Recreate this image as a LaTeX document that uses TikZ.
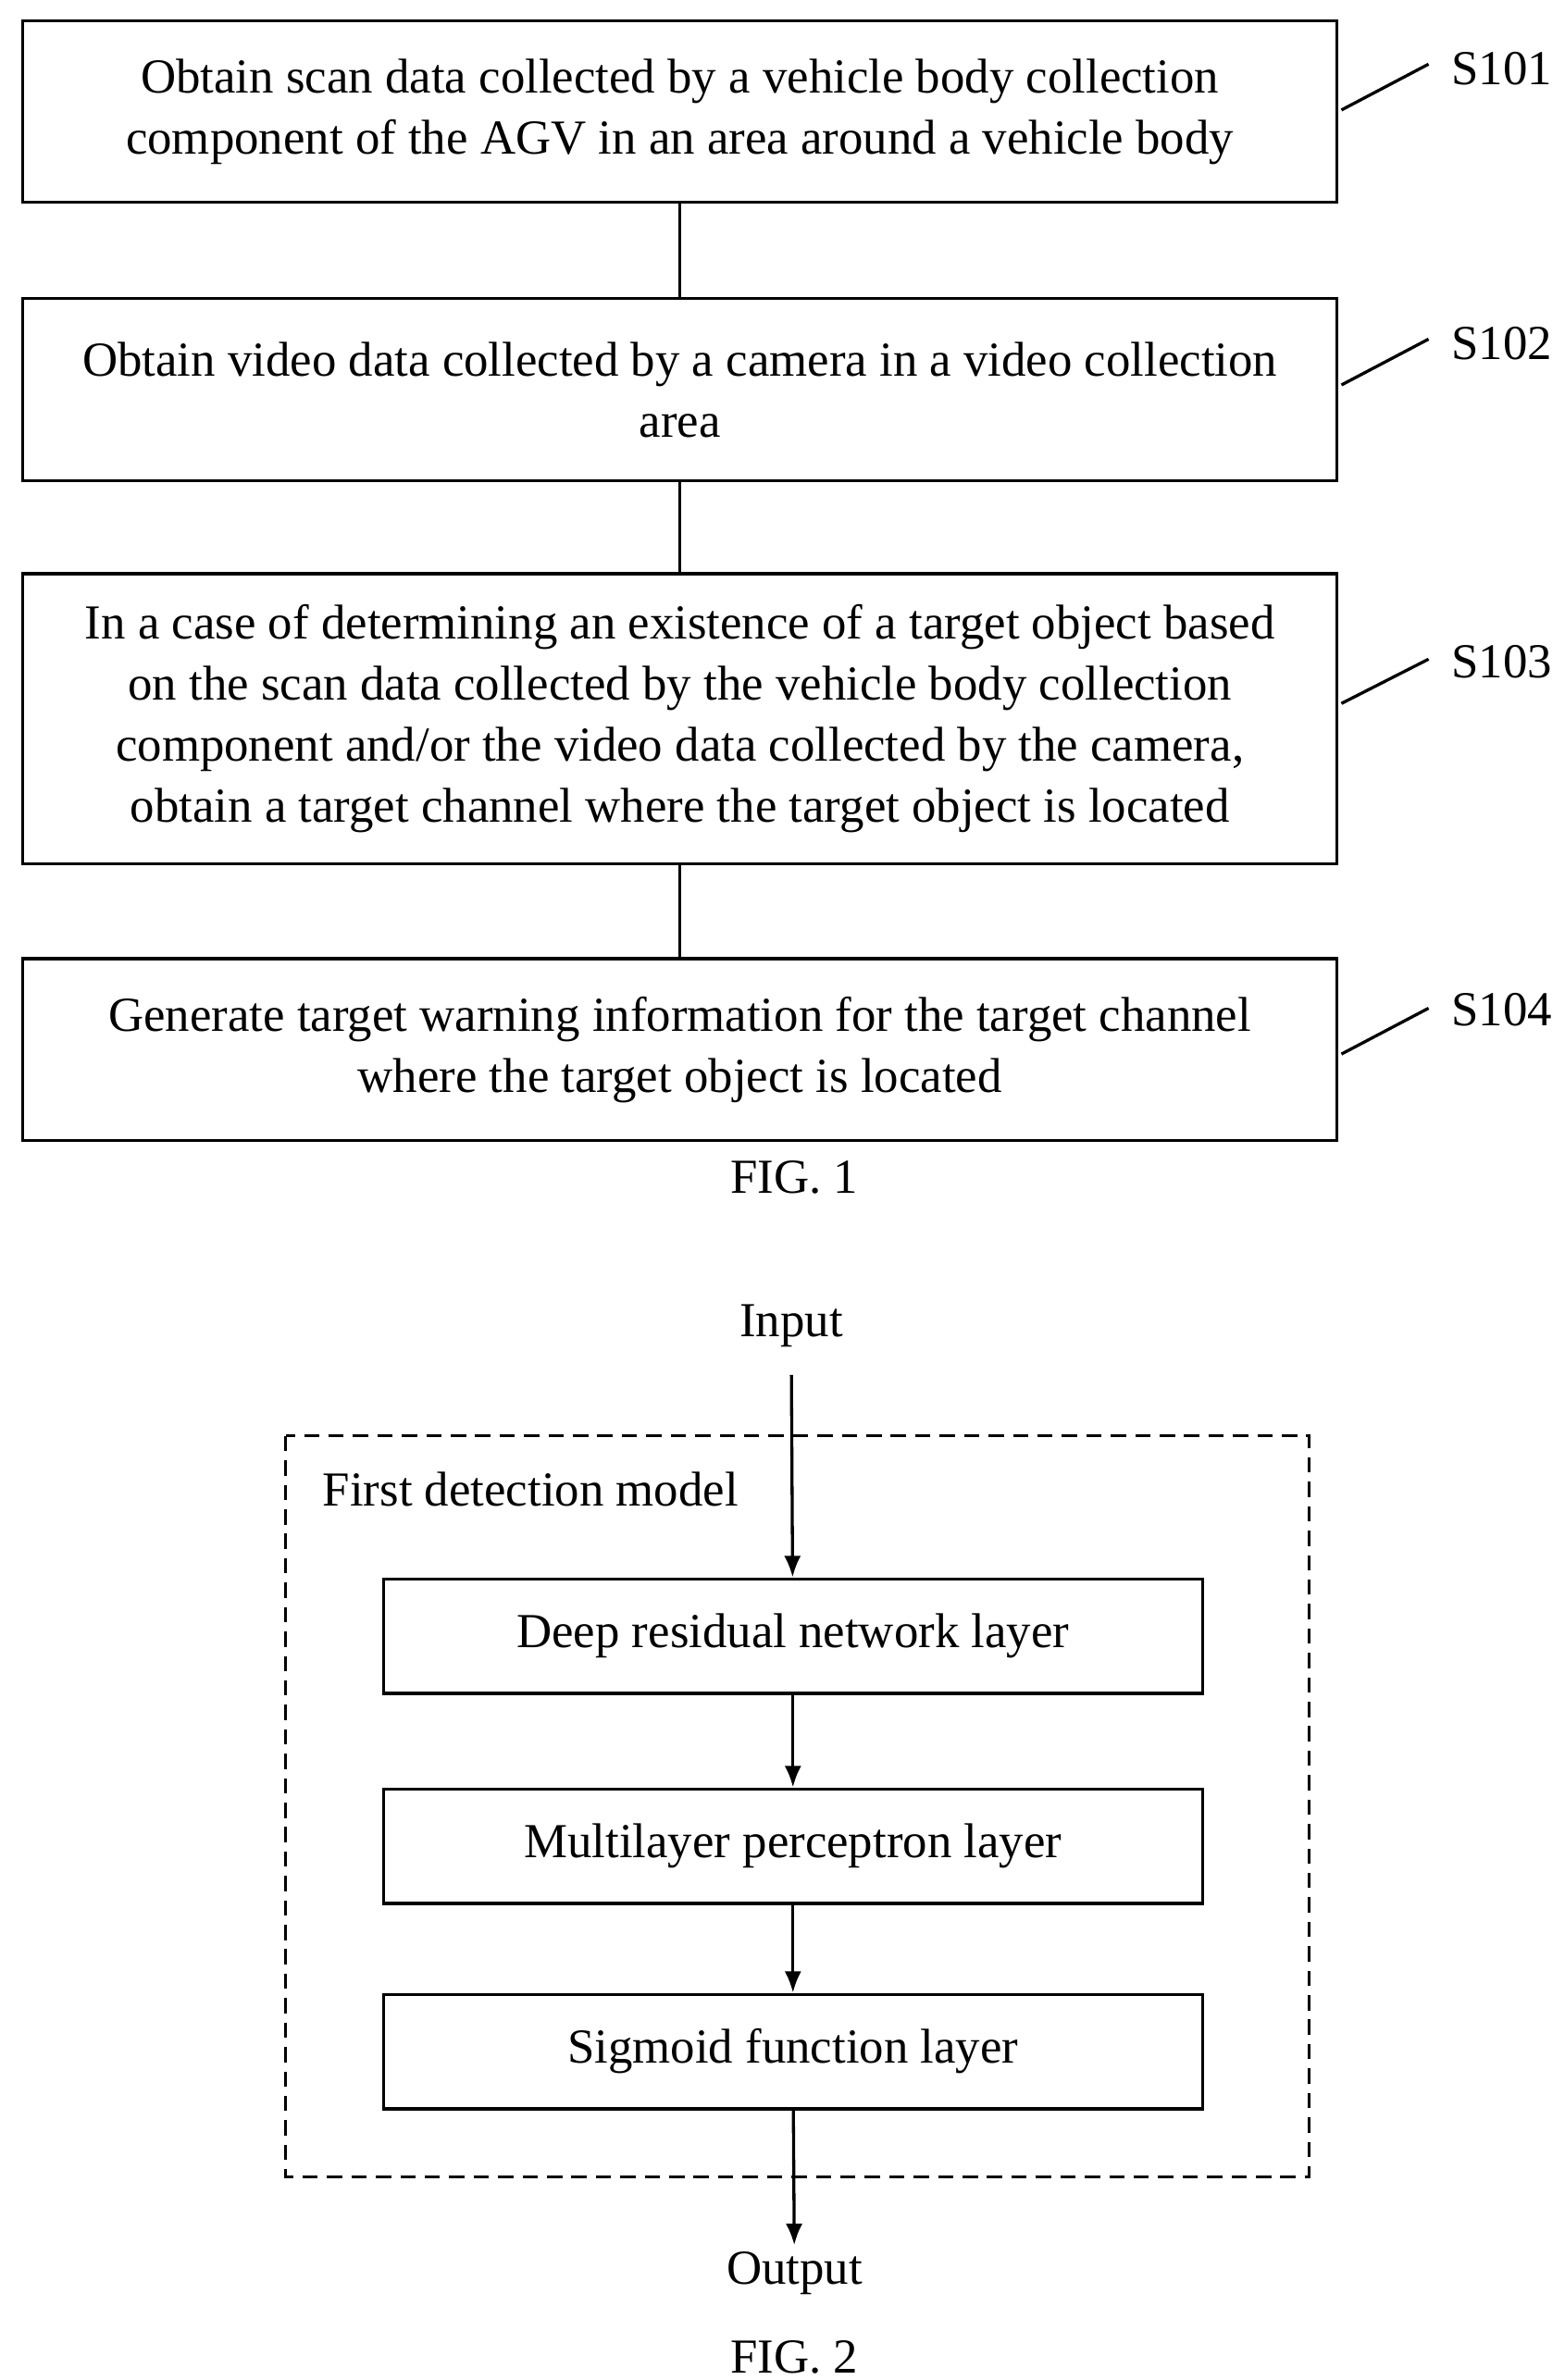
\documentclass[tikz,border=0pt]{standalone}
\usepackage{fontspec}
\setmainfont{Liberation Serif}
\usetikzlibrary{positioning,arrows.meta}

\begin{document}
\begin{tikzpicture}[x=1pt,y=-1pt,line width=2pt,
  font=\fontsize{32}{40}\selectfont,
  stepbox/.style={draw,minimum width=860pt,align=center,inner sep=0pt},
  layer/.style={draw,minimum width=536pt,minimum height=75pt,inner sep=0pt},
  tag/.style={anchor=center},
  flow/.style={-{Latex[length=14pt,width=11pt]}}]
\useasboundingbox (0,0) rectangle (1024,1558);
% FIG. 1
\node[stepbox,minimum height=119pt] (s_1) at (445,73) {Obtain scan data collected by a vehicle body collection\\component of the AGV in an area around a vehicle body};
\node[stepbox,minimum height=119pt] (s_2) at (445,255) {Obtain video data collected by a camera in a video collection\\area};
\node[stepbox,minimum height=190pt] (s_3) at (445,470.5) {In a case of determining an existence of a target object based\\on the scan data collected by the vehicle body collection\\component and/or the video data collected by the camera,\\obtain a target channel where the target object is located};
\node[stepbox,minimum height=119pt] (s_4) at (445,687) {Generate target warning information for the target channel\\where the target object is located};
\draw (s_1) -- (s_2) (s_2) -- (s_3) (s_3) -- (s_4);
\node[tag] (l_1) at (983,45) {S101};
\node[tag] (l_2) at (983,225) {S102};
\node[tag] (l_3) at (983,433) {S103};
\node[tag] (l_4) at (983,661) {S104};
\draw (s_1.east) ++(2,-1) -- ++(57,-30);
\draw (s_2.east) ++(2,-3) -- ++(57,-30);
\draw (s_3.east) ++(2,-10) -- ++(57,-29);
\draw (s_4.east) ++(2,3) -- ++(57,-30);
\node (fig_1) at (520,771) {FIG. 1};
% FIG. 2
\node (in) at (518,868) {Input};
\draw[dash pattern=on 10pt off 6pt] (187,940) rectangle (857,1425);
\node[anchor=west] (model) at (207,975) {First detection model};
\node[layer] (res) at (519,1071) {Deep residual network layer};
\node[layer] (mlp) at (519,1208.5) {Multilayer perceptron layer};
\node[layer] (sig) at (519,1343) {Sigmoid function layer};
\coordinate (top) at (518,900);
\node (out) at (520,1488) {Output};
\draw[flow] (top) -- (res);
\draw[flow] (res) -- (mlp);
\draw[flow] (mlp) -- (sig);
\draw[flow] (sig) -- (out);
\node (fig_2) at (520,1543) {FIG. 2};
\end{tikzpicture}
\end{document}
